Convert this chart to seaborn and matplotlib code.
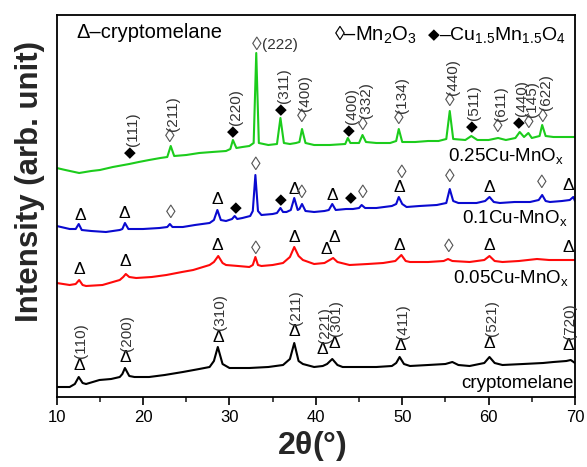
import numpy as np
import pandas as pd
import matplotlib
matplotlib.use("Agg")
import matplotlib.pyplot as plt
from matplotlib.ticker import MultipleLocator
import seaborn as sns

# ---------------- data ----------------
green_deg = [10, 11, 12.6, 14, 15, 16.5, 18.4, 19.5, 20.7, 22.0, 22.8, 23.2, 23.6, 25, 26.5, 28, 29.6,
             30.1, 30.4, 30.8, 31.5, 32.3, 32.8, 33.1, 33.4, 34.5, 35.5, 35.9, 36.3, 37.0, 37.7, 38.1,
             38.4, 38.8, 39.8, 41.6, 43.4, 43.7, 44.0, 45.0, 45.4, 45.8, 47, 48.6, 49.3, 49.6, 50.0,
             51.5, 53, 54.2, 55.1, 55.5, 55.9, 57.3, 58.0, 58.7, 60, 61.1, 62, 63.1, 63.6, 64.1, 64.6,
             65.0, 65.9, 66.2, 66.6, 67.5, 69, 70]
green_int = [229, 227, 224, 226, 227, 230, 233, 235, 237, 239, 240, 251, 241, 242, 244, 245, 246,
             248, 257, 249, 250, 251, 254, 344, 254, 252, 253, 279, 254, 253, 254, 255,
             268, 254, 252, 252, 253, 259, 254, 254, 262, 255, 254, 254, 256, 268, 255,
             255, 256, 256, 258, 286, 258, 257, 261, 257, 257, 259, 257, 259, 265, 260, 264,
             259, 261, 272, 261, 260, 260, 260]

blue_deg = [10, 11.5, 12.2, 12.55, 12.9, 14, 15.7, 17.3, 17.6, 17.9, 18.3, 20, 21.9, 22.8, 23.1, 23.4,
            24.6, 26, 27.7, 28.2, 28.6, 29.0, 29.6, 30.3, 30.6, 30.9, 31.5, 32.4, 32.7, 33.0, 33.3,
            33.7, 35.0, 35.5, 35.9, 36.2, 36.6, 37.1, 37.5, 37.9, 38.1, 38.4, 38.8, 39.8, 41.0, 41.5,
            41.9, 42.3, 43.5, 44.3, 45.0, 45.3, 45.7, 47, 48.8, 49.3, 49.6, 50.0, 50.5, 52, 54, 55.1,
            55.5, 55.9, 56.5, 58.6, 59.6, 60.1, 60.6, 61.3, 63, 64.8, 65.8, 66.2, 66.6, 67.1, 68.5,
            69.4, 69.8, 70]
blue_int = [171, 168, 168, 173, 167, 166, 165, 167, 168, 174, 168, 168, 169, 170, 173, 170,
            170, 172, 174, 177, 187, 177, 176, 178, 181, 178, 179, 181, 186, 222, 186,
            182, 183, 184, 189, 185, 185, 187, 199, 187, 188, 193, 186, 185, 186, 187,
            193, 187, 188, 188, 189, 192, 189, 189, 191, 193, 200, 193, 190, 191, 192, 194,
            208, 196, 194, 194, 196, 200, 195, 194, 195, 195, 197, 202, 196, 195, 196,
            197, 200, 196]

red_deg = [10, 11.5, 12.2, 12.6, 13.0, 13.4, 15.3, 17.3, 17.7, 18.0, 18.4, 19.2, 21, 22.7, 24.5, 25.8,
           27.7, 28.2, 28.7, 29.2, 29.6, 31, 32.3, 32.7, 33.0, 33.3, 33.7, 35, 36.2, 37.0, 37.5, 38.0,
           38.5, 39.8, 41.0, 41.6, 42.0, 42.5, 43.9, 46, 47.8, 49.2, 49.9, 50.4, 50.9, 53, 54.8, 55.3,
           55.8, 57.8, 59.5, 60.1, 60.7, 61.6, 63.5, 65.6, 67, 70]
red_int = [114, 112, 113, 117, 112, 111, 112, 117, 120, 123, 120, 119, 120, 122, 125, 127,
           132, 135, 141, 134, 132, 131, 130, 132, 140, 132, 131, 132, 134, 140, 150, 141,
           137, 133, 134, 137, 139, 135, 132, 133, 134, 136, 142, 136, 135, 135, 136, 138,
           136, 135, 137, 141, 136, 135, 136, 138, 137, 137]

black_deg = [10, 11.5, 12.1, 12.55, 13.0, 13.4, 14.95, 16.3, 17.3, 17.6, 17.9, 18.4, 19.0, 20.7, 22.5,
             24.6, 26.5, 27.7, 28.2, 28.65, 29.2, 30, 32.3, 34.5, 36.2, 37.0, 37.5, 38.0, 38.5, 39.8,
             40.8, 41.3, 41.9, 42.5, 43.1, 45, 47, 48.8, 49.3, 49.7, 50.2, 50.9, 53, 55.0, 55.8, 56.5,
             57.8, 59.5, 60.1, 60.7, 61.6, 64, 66.3, 67.5, 69, 69.5, 70]
black_int = [10, 10, 13, 20, 14, 13, 17, 18, 20, 23, 29, 21, 20, 20, 22,
             25, 28, 30, 36, 50, 33, 29, 29, 30, 32, 38, 54, 36, 33, 30,
             31, 33, 38, 32, 30, 30, 30, 31, 34, 40, 33, 31, 32, 33, 35, 32,
             31, 34, 40, 34, 32, 33, 34, 35, 36, 37, 34]

samples = ["0.25Cu-MnOx", "0.1Cu-MnOx", "0.05Cu-MnOx", "cryptomelane"]
sample_labels = ["0.25Cu-MnO$_x$", "0.1Cu-MnO$_x$", "0.05Cu-MnO$_x$", "cryptomelane"]
colors = ["#1ccc1c", "#0a0ad0", "#ff0a0a", "#000000"]

# peak markers: symbol, 2theta, intensity
green_sym = ["◆", "◊", "◆", "◆", "◊", "◆", "◊", "◊", "◊", "◆", "◊", "◆", "◊", "◊"]
green_pos = [18.44, 23.1, 30.43, 35.93, 38.4, 43.8, 45.4, 49.6, 55.5, 58.0, 61.1, 63.5, 64.7, 66.3]
green_hgt = [244, 259, 265, 287, 279, 266, 272, 277, 295, 270, 269, 274, 273, 280]
green_hkl = ["(111)", "(211)", "(220)", "(311)", "(400)", "(400)", "(332)", "(134)", "(440)",
             "(511)", "(611)", "(440)", "(145)", "(622)"]

blue_sym = ["Δ", "Δ", "◊", "Δ", "◆", "◊", "◆", "Δ", "◊", "Δ", "◆", "◊", "Δ", "◊", "◊", "Δ", "◊", "Δ"]
blue_pos = [12.75, 17.85, 23.15, 28.6, 30.7, 33.0, 35.9, 37.5, 38.4, 41.9, 44.1, 45.4, 49.7, 50.0,
            55.5, 60.1, 66.2, 69.2]
blue_hgt = [182, 184, 184, 197, 189, 232, 197, 208, 204, 202, 199, 204, 210, 224, 219, 210, 214, 212]

red_sym = ["Δ", "Δ", "Δ", "◊", "Δ", "Δ", "Δ", "Δ", "◊", "Δ", "Δ"]
red_pos = [12.6, 18.0, 28.6, 33.0, 37.5, 41.2, 42.1, 49.7, 55.4, 60.1, 69.2]
red_hgt = [128, 135, 152, 148, 160, 148, 159, 152, 149, 151, 149]

black_pos = [12.6, 17.9, 28.7, 37.5, 40.8, 42.1, 49.8, 60.1, 69.2]
black_hgt = [32, 39, 60, 65, 47, 54, 51, 54, 51]
black_hkl = ["(110)", "(200)", "(310)", "(211)", "(221)", "(301)", "(411)", "(521)", "(720)"]

x_ticks = [10, 20, 30, 40, 50, 60, 70]

# ---------------- plot ----------------
sns.set_theme(style="white")
plt.rcParams["font.family"] = ["Liberation Sans", "DejaVu Sans"]
plt.rcParams["mathtext.fontset"] = "custom"
plt.rcParams["mathtext.rm"] = "Liberation Sans"
plt.rcParams["mathtext.it"] = "Liberation Serif:italic"
plt.rcParams["mathtext.bf"] = "Liberation Sans:bold"
plt.rcParams["mathtext.default"] = "regular"

frames = []
for name, d, v in zip(samples, [green_deg, blue_deg, red_deg, black_deg],
                      [green_int, blue_int, red_int, black_int]):
    frames.append(pd.DataFrame({"deg": d, "intensity": v, "sample": name}))
df = pd.concat(frames, ignore_index=True)

fig = plt.figure(figsize=(5.87, 4.67), dpi=100)
ax = fig.add_axes([56.7 / 587, 1 - 397 / 467, (575 - 56.7) / 587, (397 - 15) / 467])

sns.lineplot(data=df, x="deg", y="intensity", hue="sample", hue_order=samples,
             palette=dict(zip(samples, colors)), estimator=None, sort=False,
             legend=False, linewidth=1.5, ax=ax)

ax.set_xlim(10, 70)
ax.set_ylim(0, 382)
ax.set_xticks(x_ticks)
ax.xaxis.set_minor_locator(MultipleLocator(5))
ax.set_yticks([])
ax.tick_params(axis="x", which="major", direction="out", length=6, width=1.2,
               labelsize=12, pad=3, bottom=True, colors="black")
ax.tick_params(axis="x", which="minor", direction="out", length=3.5, width=1.2, bottom=True)
for s in ax.spines.values():
    s.set_color("black")
    s.set_linewidth(1.3)
ax.set_xlabel("")
ax.set_ylabel("")

lab_col = "#333333"
dia_col = "#555555"
sym_size = {"Δ": 12.5, "◊": 14, "◆": 11}


def marker(x, y, sym):
    col = dia_col if sym == "◊" else "black"
    ax.text(x, y, sym, ha="center", va="center", fontsize=sym_size[sym], color=col,
            family=["DejaVu Sans"] if sym == "◆" else ["Liberation Sans", "DejaVu Sans"])


# green markers + labels
for sym, x, y, hkl in zip(green_sym, green_pos, green_hgt, green_hkl):
    marker(x, y, sym)
    ax.text(x + 0.35, y + 7, hkl, rotation=90, ha="center", va="bottom",
            fontsize=11, color=lab_col)
# strongest Mn2O3 (222) reflection, labelled horizontally
marker(33.1, 352, "◊")
ax.text(33.8, 352, "(222)", ha="left", va="center", fontsize=11, color=lab_col)

for sym, x, y in zip(blue_sym, blue_pos, blue_hgt):
    marker(x, y, sym)
for sym, x, y in zip(red_sym, red_pos, red_hgt):
    marker(x, y, sym)
for x, y, hkl in zip(black_pos, black_hgt, black_hkl):
    marker(x, y, "Δ")
    ax.text(x + 0.25, y + 7, hkl, rotation=90, ha="center", va="bottom",
            fontsize=11, color=lab_col)

# sample labels
label_x = [68.7, 69.1, 69.3, 69.8]
label_y = [241, 179, 119, 14]
for lbl, xx, yy in zip(sample_labels, label_x, label_y):
    ax.text(xx, yy, lbl, ha="right", va="center", fontsize=13.5, color="black")

# phase key
ax.text(12.3, 364, "Δ–cryptomelane", ha="left", va="center", fontsize=14.5, color="black")
ax.text(42.1, 362, "◊–Mn$_2$O$_3$", ha="left", va="center", fontsize=14.5, color="black")
ax.text(53.7, 362, "◆", ha="center", va="center", fontsize=11, color="black",
        family=["DejaVu Sans"])
ax.text(54.3, 362, "–Cu$_{1.5}$Mn$_{1.5}$O$_4$", ha="left", va="center", fontsize=14,
        color="black")

# axis titles
fig.text(30 / 587, 1 - 181 / 467, "Intensity (arb. unit)", rotation=90, ha="center",
         va="center", fontsize=22.5, fontweight="bold")
fig.text(312 / 587, 1 - 446 / 467, r"2$\theta$(°)", ha="center", va="center",
         fontsize=23, fontweight="bold")

fig.savefig("out.png", dpi=100)
